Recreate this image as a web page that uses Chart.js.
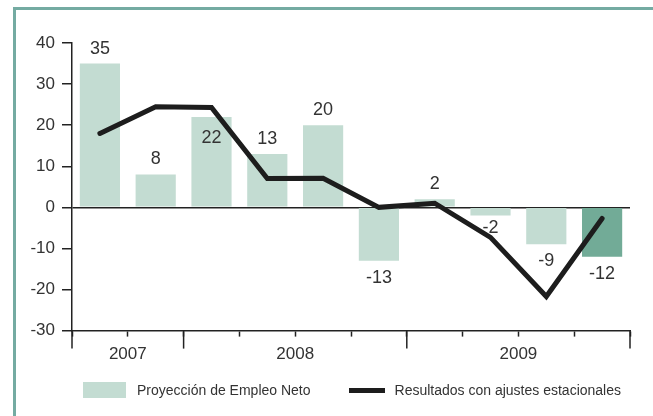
<!DOCTYPE html>
<html>
<head>
<meta charset="utf-8">
<script src="https://cdn.jsdelivr.net/npm/chart.js@4.4.1/dist/chart.umd.min.js"></script>
<style>
  html, body { margin:0; padding:0; background:#fff; overflow:hidden; }
  #wrap { position:relative; width:653px; height:416px; }
  #frame {
    position:absolute; left:13px; top:7px; width:700px; height:500px;
    border-left:3px solid #74aba2; border-top:3px solid #74aba2;
  }
  canvas { position:absolute; left:0; top:0; }
  #legend {
    position:absolute; left:83px; top:380px; height:20px;
    display:flex; align-items:center;
    font:14px 'Liberation Sans', Arial, sans-serif; color:#333;
  }
  #legend .item { display:flex; align-items:center; }
  #legend .sw-bar  { width:43px; height:16px; margin-right:11px; }
  #legend .sw-line { width:36px; height:5px; margin-right:10px; }
  #legend .item + .item { margin-left:38px; }
</style>
</head>
<body>
<div id="wrap">
  <div id="frame"></div>
  <canvas id="chart" width="653" height="416"></canvas>
  <div id="legend"></div>
</div>
<script>
// ── DATA ───────────────────────────────────────────────
const quarters = ['3T 2007','4T 2007','1T 2008','2T 2008','3T 2008','4T 2008','1T 2009','2T 2009','3T 2009','4T 2009'];
const netEmployment    = [35, 8, 22, 13, 20, -13, 2, -2, -9, -12];
const seasonalAdjusted = [18, 24.5, 24.3, 7, 7.1, 0, 1, -7.3, -21.7, -2.7];
const years            = ['2007', '2008', '2009'];
const quartersPerYear  = [2, 4, 4];
const yMin = -30, yMax = 40, yStep = 10;

const legendBar  = 'Proyección de Empleo Neto';
const legendLine = 'Resultados con ajustes estacionales';

// ── STYLE ──────────────────────────────────────────────
const BAR_LIGHT = '#c3dcd2';
const BAR_DARK  = '#72ab97';
const LINE_COL  = '#1d1d1d';
const AXIS_COL  = '#222';
const TEXT_COL  = '#333';
const NUM_FONT  = "'Liberation Sans', Arial, sans-serif";

const barColors = netEmployment.map((_, i) => i === netEmployment.length - 1 ? BAR_DARK : BAR_LIGHT);

// year boundaries (in quarter units) and label positions
const bounds = [0];
quartersPerYear.forEach(n => bounds.push(bounds[bounds.length - 1] + n));
const yearPos = {};
years.forEach((y, i) => { yearPos[(bounds[i] + bounds[i + 1]) / 2] = y; });

// ── PLUGINS ────────────────────────────────────────────
// value labels, drawn over bars and line
const barLabels = {
  id: 'barLabels',
  afterDatasetsDraw(chart) {
    const meta = chart.getDatasetMeta(0);
    const ctx = chart.ctx;
    ctx.save();
    ctx.font = `18px ${NUM_FONT}`;
    ctx.fillStyle = TEXT_COL;
    ctx.textAlign = 'center';
    ctx.textBaseline = 'middle';
    meta.data.forEach((bar, i) => {
      const v = netEmployment[i];
      let y;
      if (i === 2) y = bar.y + 21;          // "22" sits inside its bar
      else if (i === 7) y = bar.y + 12;     // "-2" tucked closer
      else y = v >= 0 ? bar.y - 15 : bar.y + 17;
      ctx.fillText(String(v), bar.x, y);
    });
    ctx.restore();
  }
};

const yearTicks = {
  id: 'yearTicks',
  afterDraw(chart) {
    const sc = chart.scales.xt, ctx = chart.ctx;
    const top = chart.chartArea.bottom;
    ctx.save();
    ctx.strokeStyle = AXIS_COL;
    ctx.lineWidth = 1.5;
    bounds.forEach(b => {
      const x = sc.getPixelForValue(b);
      ctx.beginPath();
      ctx.moveTo(x, top);
      ctx.lineTo(x, top + 18);
      ctx.stroke();
    });
    ctx.restore();
  }
};

// ── CHART ──────────────────────────────────────────────
const chart = new Chart(document.getElementById('chart'), {
  data: {
    labels: quarters,
    datasets: [
      {
        type: 'bar',
        label: legendBar,
        data: netEmployment,
        backgroundColor: barColors,
        borderWidth: 0,
        categoryPercentage: 1,
        barPercentage: 0.72,
        order: 2
      },
      {
        type: 'line',
        label: legendLine,
        data: seasonalAdjusted,
        borderColor: LINE_COL,
        borderWidth: 5,
        borderCapStyle: 'round',
        borderJoinStyle: 'miter',
        tension: 0,
        pointRadius: 0,
        order: 1
      }
    ]
  },
  options: {
    responsive: false,
    animation: false,
    layout: { padding: { left: 0, right: 23, top: 43, bottom: 43 } },
    scales: {
      x: { type: 'category', display: false, offset: true },
      xt: {
        type: 'linear',
        position: 'bottom',
        min: 0, max: quarters.length,
        afterBuildTicks: s => {
          s.ticks = [];
          for (let v = 0; v <= quarters.length; v++) s.ticks.push({ value: v });
        },
        ticks: {
          autoSkip: false,
          maxRotation: 0,
          padding: 8,
          color: TEXT_COL,
          font: { family: NUM_FONT, size: 17 },
          callback: v => yearPos[v] || ''
        },
        grid: {
          drawOnChartArea: false,
          tickLength: 6,
          tickWidth: 1.5,
          tickColor: AXIS_COL
        },
        border: { display: true, color: AXIS_COL, width: 1.5 }
      },
      y: {
        min: yMin, max: yMax,
        afterFit: s => { s.width = 72; },
        ticks: {
          stepSize: yStep,
          padding: 7,
          color: TEXT_COL,
          font: { family: NUM_FONT, size: 17 }
        },
        grid: {
          drawOnChartArea: true,
          color: c => (c.tick && c.tick.value === 0) ? AXIS_COL : 'rgba(0,0,0,0)',
          lineWidth: 1.5,
          tickLength: 10,
          tickColor: AXIS_COL,
          tickWidth: 1.5
        },
        border: { display: true, color: AXIS_COL, width: 1.5 }
      }
    },
    plugins: {
      tooltip: { enabled: false },
      legend: { display: false }
    }
  },
  plugins: [barLabels, yearTicks]
});

// ── LEGEND (HTML, built from the datasets) ─────────────
const legendEl = document.getElementById('legend');
chart.data.datasets.forEach(ds => {
  const item = document.createElement('div');
  item.className = 'item';
  const sw = document.createElement('span');
  if (ds.type === 'bar') {
    sw.className = 'sw-bar';
    sw.style.background = BAR_LIGHT;
  } else {
    sw.className = 'sw-line';
    sw.style.background = ds.borderColor;
  }
  const txt = document.createElement('span');
  txt.textContent = ds.label;
  item.appendChild(sw);
  item.appendChild(txt);
  legendEl.appendChild(item);
});
</script>
</body>
</html>
